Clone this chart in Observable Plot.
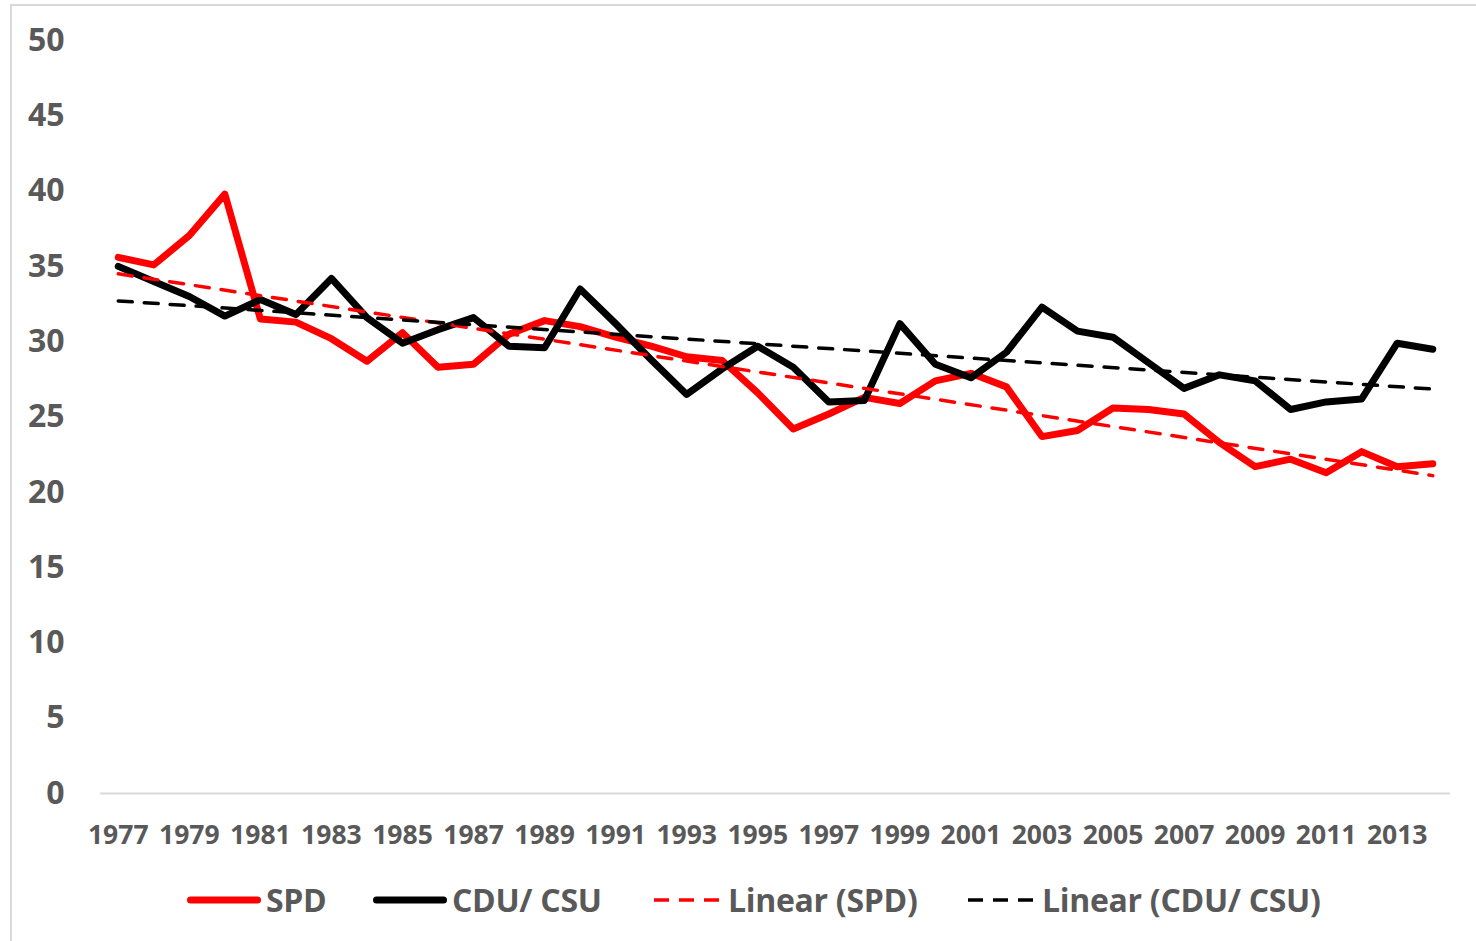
<!DOCTYPE html>
<html>
<head>
<meta charset="utf-8">
<script src="https://cdn.jsdelivr.net/npm/d3@7"></script>
<script src="https://cdn.jsdelivr.net/npm/@observablehq/plot@0.6"></script>
<style>
  html, body { margin: 0; padding: 0; background: #fff; }
  body { width: 1476px; height: 941px; overflow: hidden; position: relative; font-family: "Open Sans", sans-serif; }
  #frame { position: absolute; left: 10px; top: 4px; width: 1500px; height: 1000px; border-left: 2px solid #d9d9d9; border-top: 2px solid #d9d9d9; box-sizing: border-box; }
  #chart { position: absolute; left: 0; top: 0; }
  #legend { position: absolute; left: 0; top: 878px; width: 1476px; height: 44px; }
  .item { position: absolute; top: 0; height: 44px; display: flex; align-items: center; }
  .item span { font-weight: 700; font-size: 32px; color: #595959; margin-left: 5px; line-height: 44px; letter-spacing: -0.3px; }
</style>
</head>
<body>
<div id="frame"></div>
<div id="chart"></div>
<div id="legend"></div>
<script>
const years = [1977,1978,1979,1980,1981,1982,1983,1984,1985,1986,1987,1988,1989,1990,1991,1992,1993,1994,1995,1996,1997,1998,1999,2000,2001,2002,2003,2004,2005,2006,2007,2008,2009,2010,2011,2012,2013,2014];
const spd = [35.6,35.1,37.05,39.8,31.5,31.3,30.2,28.7,30.6,28.3,28.5,30.5,31.4,31.0,30.3,29.7,29.0,28.75,26.6,24.2,25.2,26.3,25.9,27.4,27.9,27.0,23.7,24.1,25.6,25.5,25.2,23.3,21.7,22.2,21.3,22.7,21.7,21.9];
const cdu = [35.0,34.0,33.0,31.7,32.8,31.8,34.2,31.6,29.9,30.8,31.6,29.7,29.6,33.5,31.2,28.8,26.5,28.2,29.7,28.3,26.0,26.1,31.2,28.5,27.6,29.3,32.3,30.7,30.3,28.6,26.9,27.8,27.4,25.5,26.0,26.2,29.9,29.5];
const xTicks = [1977,1979,1981,1983,1985,1987,1989,1991,1993,1995,1997,1999,2001,2003,2005,2007,2009,2011,2013];
const yTicks = [0,5,10,15,20,25,30,35,40,45,50];
const seriesNames = ["SPD", "CDU/ CSU", "Linear (SPD)", "Linear (CDU/ CSU)"];

const spdData = years.map((y, i) => ({year: y, value: spd[i]}));
const cduData = years.map((y, i) => ({year: y, value: cdu[i]}));

const textColor = "#595959";

const chart = Plot.plot({
  width: 1476,
  height: 870,
  marginTop: 40,
  marginBottom: 77,
  marginLeft: 100,
  marginRight: 26,
  style: { fontFamily: "'Open Sans', sans-serif", color: textColor, background: "transparent" },
  x: { type: "linear", domain: [1976.5, 2014.5], label: null },
  y: { domain: [0, 50], label: null },
  marks: [
    Plot.ruleY([0], { stroke: "#d9d9d9", strokeWidth: 2 }),
    Plot.axisX({ ticks: xTicks, tickFormat: d => String(d), tickSize: 0, tickPadding: 32, fontSize: 26.5, fontWeight: 700, fill: textColor, label: null }),
    Plot.axisY({ ticks: yTicks, tickSize: 0, tickPadding: 36, fontSize: 32, fontWeight: 700, fill: textColor, label: null }),
    Plot.lineY(spdData, { x: "year", y: "value", stroke: "#ff0000", strokeWidth: 7, strokeLinejoin: "round", strokeLinecap: "round" }),
    Plot.lineY(cduData, { x: "year", y: "value", stroke: "#000000", strokeWidth: 7, strokeLinejoin: "round", strokeLinecap: "round" }),
    Plot.linearRegressionY(spdData, { x: "year", y: "value", stroke: "#ff0000", strokeWidth: 3.5, strokeDasharray: "14 12", ci: 0 }),
    Plot.linearRegressionY(cduData, { x: "year", y: "value", stroke: "#000000", strokeWidth: 3.5, strokeDasharray: "14 12", ci: 0 })
  ]
});
document.getElementById("chart").appendChild(chart);

// Legend
const legendItems = [
  { name: seriesNames[0], color: "#ff0000", dash: null, width: 7, left: 187, sw: 74 },
  { name: seriesNames[1], color: "#000000", dash: null, width: 7, left: 373, sw: 74 },
  { name: seriesNames[2], color: "#ff0000", dash: "15 10", width: 3.5, left: 654, sw: 65 },
  { name: seriesNames[3], color: "#000000", dash: "15 10", width: 3.5, left: 968, sw: 65 }
];
const legend = document.getElementById("legend");
for (const it of legendItems) {
  const div = document.createElement("div");
  div.className = "item";
  div.style.left = it.left + "px";
  const sw = it.sw;
  const cap = it.dash ? "butt" : "round";
  const pad = it.dash ? 0 : it.width / 2;
  div.innerHTML = `<svg width="${sw}" height="14" style="display:block"><line x1="${pad}" x2="${sw - pad}" y1="7" y2="7" stroke="${it.color}" stroke-width="${it.width}" stroke-linecap="${cap}" ${it.dash ? `stroke-dasharray="${it.dash}"` : ""}/></svg><span>${it.name}</span>`;
  if (it.dash) div.querySelector("span").style.marginLeft = "9px";
  legend.appendChild(div);
}
</script>
</body>
</html>
